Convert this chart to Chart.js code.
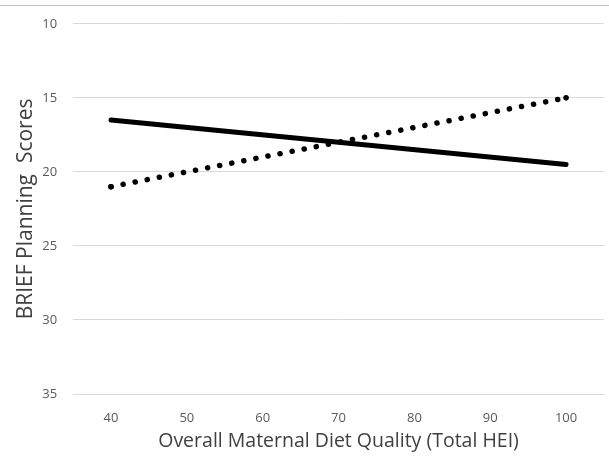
<!DOCTYPE html>
<html>
<head>
<meta charset="utf-8">
<script src="https://cdn.jsdelivr.net/npm/chart.js@4"></script>
<style>
    body { margin: 0; background: #fff; }
    #wrap { position: relative; width: 609px; height: 464px; }
    #topline { position: absolute; left: 0; top: 5px; width: 609px; height: 1px; background: #bfbfbf; }
</style>
</head>
<body>
<div id="wrap">
    <div id="topline"></div>
    <canvas id="chart" width="609" height="464"></canvas>
</div>
<script>
const categories = ['40', '50', '60', '70', '80', '90', '100'];
const yTicks = [10, 15, 20, 25, 30, 35];
// two endpoints per trend line
const solidLine = [{ x: '40', y: 16.5 }, { x: '100', y: 19.5 }];
const dottedLine = [{ x: '40', y: 21 }, { x: '100', y: 15 }];

const fontFamily = "'Open Sans', sans-serif";

new Chart(document.getElementById('chart').getContext('2d'), {
    type: 'line',
    data: {
        labels: categories,
        datasets: [
            {
                label: 'Solid',
                data: solidLine,
                borderColor: '#000',
                borderWidth: 5,
                borderCapStyle: 'round',
                pointRadius: 0
            },
            {
                label: 'Dotted',
                data: dottedLine,
                borderColor: '#000',
                borderWidth: 5.5,
                borderCapStyle: 'round',
                borderDash: [0.1, 12.2],
                // end dots so the pattern stops on both ends
                pointRadius: 2.8,
                pointBorderWidth: 0,
                pointBackgroundColor: '#000'
            }
        ]
    },
    options: {
        responsive: false,
        animation: false,
        layout: { padding: { top: 10, right: 5, bottom: 11, left: 8 } },
        plugins: {
            legend: { display: false },
            tooltip: { enabled: false }
        },
        scales: {
            x: {
                type: 'category',
                offset: true,
                grid: { display: false },
                border: { display: false },
                ticks: { color: '#595959', font: { family: fontFamily, size: 13 }, padding: 8 },
                title: {
                    display: true,
                    text: 'Overall Maternal Diet Quality (Total HEI)',
                    color: '#404040',
                    font: { family: fontFamily, size: 19.5 },
                    padding: { top: -4, bottom: 0 }
                }
            },
            y: {
                reverse: true,
                min: 10,
                max: 35,
                afterBuildTicks: (axis) => { axis.ticks = yTicks.map(v => ({ value: v })); },
                grid: { color: '#d9d9d9', lineWidth: 1, drawTicks: false },
                border: { display: false },
                ticks: { color: '#595959', font: { family: fontFamily, size: 13 }, padding: 16 },
                title: {
                    display: true,
                    text: 'BRIEF Planning  Scores',
                    color: '#404040',
                    font: { family: fontFamily, size: 21 },
                    padding: { top: 5, bottom: -12 }
                }
            }
        }
    }
});
</script>
</body>
</html>
